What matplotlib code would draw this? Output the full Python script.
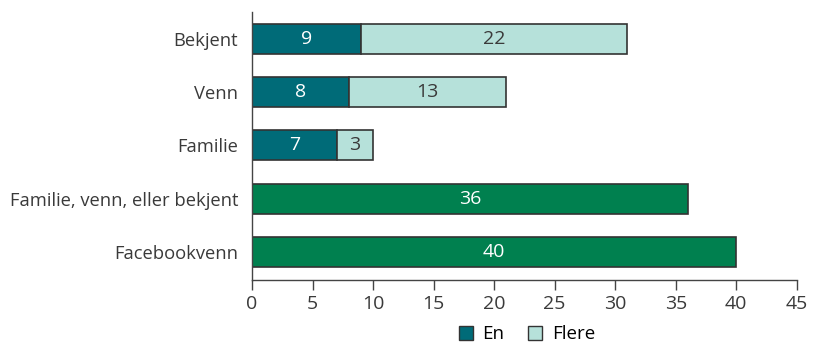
import matplotlib.pyplot as plt
from matplotlib.patches import Patch

plt.rcParams['font.family'] = ['Open Sans', 'DejaVu Sans']

# Data
categories = ['Facebookvenn', 'Familie, venn, eller bekjent', 'Familie', 'Venn', 'Bekjent']
en = [0, 0, 7, 8, 9]
flere = [0, 0, 3, 13, 22]
total = [40, 36, 0, 0, 0]

c_en = '#006b78'
c_flere = '#b6e1da'
c_total = '#00804f'
edge = '#333333'
txt = '#3a3a3a'

fig = plt.figure(figsize=(8.13, 3.44), dpi=100)
ax = fig.add_axes([0.31, 0.186, 0.670, 0.779])

ypos = list(range(len(categories)))
h = 0.56
for y, a, b, t in zip(ypos, en, flere, total):
    if t:
        ax.barh(y, t, height=h, color=c_total, edgecolor=edge, linewidth=1.2)
        ax.text(t / 2, y, str(t), ha='center', va='center', color='white', fontsize=14)
    else:
        ax.barh(y, a, height=h, color=c_en, edgecolor=edge, linewidth=1.2)
        ax.barh(y, b, left=a, height=h, color=c_flere, edgecolor=edge, linewidth=1.2)
        ax.text(a / 2, y, str(a), ha='center', va='center', color='white', fontsize=14)
        ax.text(a + b / 2, y, str(b), ha='center', va='center', color=txt, fontsize=14)

ax.set_xlim(0, 45)
ax.set_ylim(-0.525, 4.5)
ax.set_xticks(range(0, 46, 5))
ax.set_yticks(ypos)
ax.set_yticklabels(categories)
ax.tick_params(axis='y', length=0, pad=10, labelsize=13.2, labelcolor=txt)
ax.tick_params(axis='x', length=7, width=1, color='#444444', labelsize=14, labelcolor=txt, pad=4)
for s in ['top', 'right']:
    ax.spines[s].set_visible(False)
for s in ['left', 'bottom']:
    ax.spines[s].set_color('#444444')
    ax.spines[s].set_linewidth(1)

handles = [Patch(facecolor=c_en, edgecolor=edge, label='En'),
           Patch(facecolor=c_flere, edgecolor=edge, label='Flere')]
fig.legend(handles=handles, loc='center', bbox_to_anchor=(0.648, 0.028), ncol=2, frameon=False,
           fontsize=13.5, handlelength=0.75, handleheight=0.75, handletextpad=0.5, columnspacing=1.3)

fig.savefig('out.png', dpi=100)
